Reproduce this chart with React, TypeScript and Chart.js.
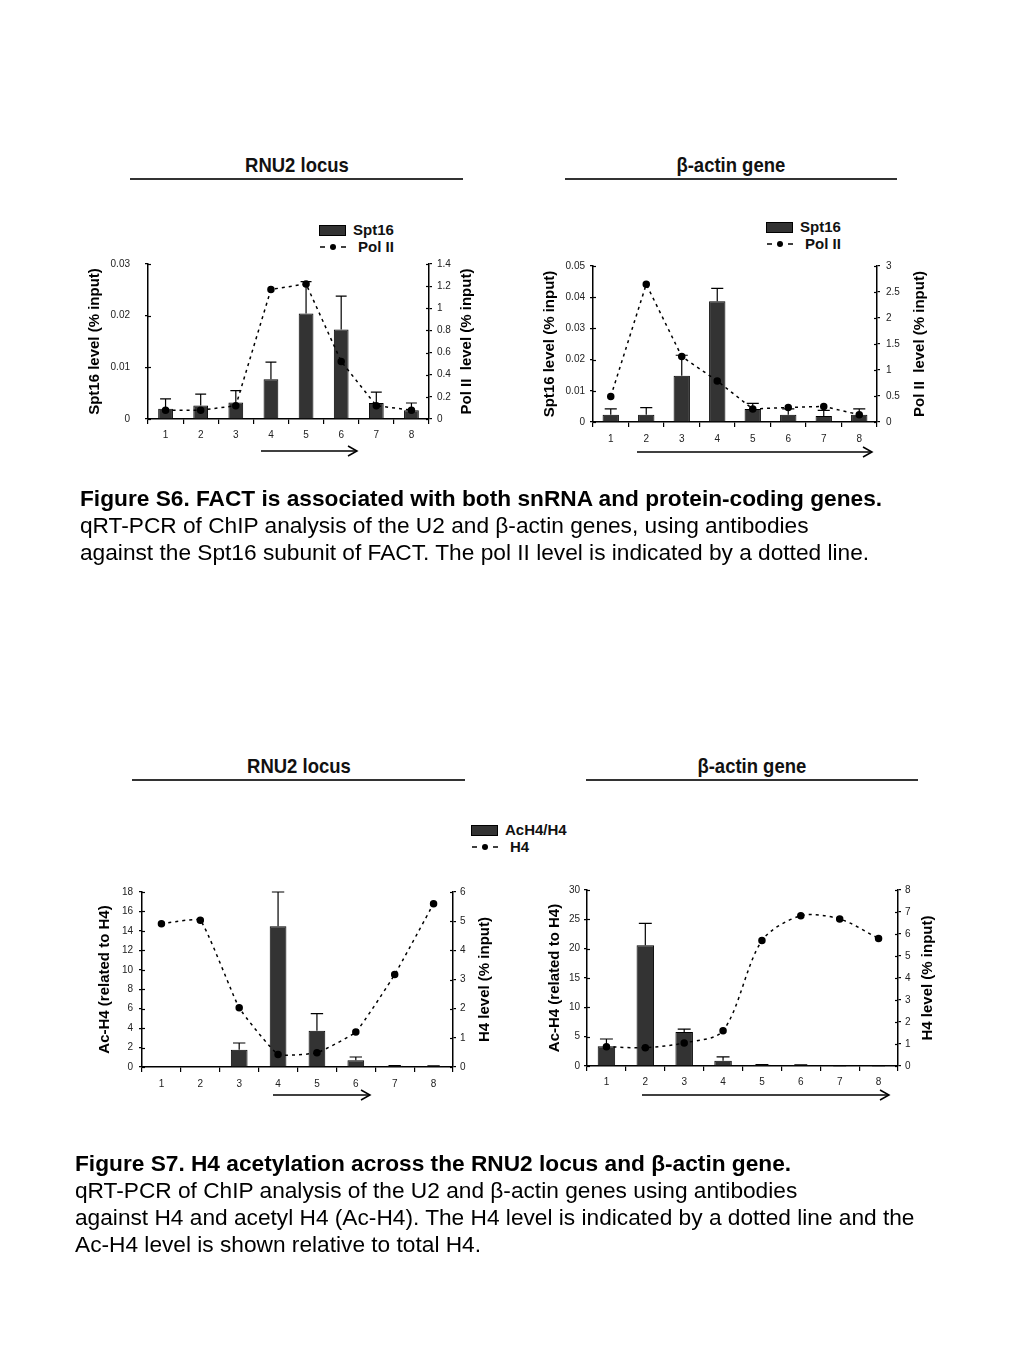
import React, { useEffect, useRef } from "react";
import { Chart, registerables } from "chart.js";

Chart.register(...registerables);

const FONT = '"Liberation Sans", Arial, Helvetica, sans-serif';

// ---------- data ----------
const categories = ["1", "2", "3", "4", "5", "6", "7", "8"];

// Figure S6 – RNU2 locus
const s6RnuSpt16 = [0.002, 0.0026, 0.0032, 0.0077, 0.0204, 0.0173, 0.0031, 0.0017];
const s6RnuSpt16Err = [0.0039, 0.0048, 0.0055, 0.011, 0.0266, 0.0238, 0.0052, 0.0031];
const s6RnuPolII = [0.08, 0.08, 0.12, 1.17, 1.22, 0.52, 0.12, 0.08];

// Figure S6 – beta-actin gene
const s6ActSpt16 = [0.0023, 0.0023, 0.0148, 0.0387, 0.0042, 0.0023, 0.0019, 0.0023];
const s6ActSpt16Err = [0.0042, 0.0046, 0.0214, 0.0428, 0.006, 0.0042, 0.0037, 0.0042];
const s6ActPolII = [0.49, 2.65, 1.26, 0.79, 0.25, 0.28, 0.3, 0.14];

// Figure S7 – RNU2 locus
const s7RnuAcH4 = [0, 0, 1.78, 14.47, 3.74, 0.69, 0.12, 0.1];
const s7RnuAcH4Err = [0, 0, 2.47, 18.0, 5.49, 1.03, 0.15, 0.12];
const s7RnuH4 = [4.91, 5.03, 2.03, 0.43, 0.49, 1.2, 3.17, 5.6];

// Figure S7 – beta-actin gene
const s7ActAcH4 = [3.36, 20.6, 5.8, 0.91, 0.2, 0.15, 0.05, 0.05];
const s7ActAcH4Err = [4.6, 24.3, 6.3, 1.54, 0.25, 0.2, 0.08, 0.08];
const s7ActH4 = [0.88, 0.83, 1.05, 1.6, 5.7, 6.83, 6.68, 5.8];

// axis ranges [max, step]
const s6RnuLeftAxis = [0.03, 0.01];
const s6RnuRightAxis = [1.4, 0.2];
const s6ActLeftAxis = [0.05, 0.01];
const s6ActRightAxis = [3, 0.5];
const s7RnuLeftAxis = [18, 2];
const s7RnuRightAxis = [6, 1];
const s7ActLeftAxis = [30, 5];
const s7ActRightAxis = [8, 1];

const fmt = (v: any) => String(Math.round(Number(v) * 10000) / 10000);

// ---------- plugin: error bars, inner ticks, right-hand title ----------
const errorBarPlugin = {
  id: "errorBars",
  afterDatasetDraw(chart: any, args: any) {
    const ds = chart.data.datasets[args.index];
    if (!ds.errorHigh) return;
    const yScale = chart.scales[ds.yAxisID];
    const ctx = chart.ctx;
    ctx.save();
    ctx.strokeStyle = "#000";
    ctx.lineWidth = 1.2;
    args.meta.data.forEach((bar: any, i: number) => {
      const hi = ds.errorHigh[i];
      if (hi == null || hi <= ds.data[i]) return;
      const p = bar.getProps(["x", "y", "width"], true);
      const yTop = yScale.getPixelForValue(hi);
      const cap = p.width * 0.37;
      ctx.beginPath();
      ctx.moveTo(p.x, p.y);
      ctx.lineTo(p.x, yTop);
      ctx.moveTo(p.x - cap, yTop);
      ctx.lineTo(p.x + cap, yTop);
      ctx.stroke();
    });
    ctx.restore();
  },
};

const decorPlugin = {
  id: "decor",
  afterDraw(chart: any, _args: any, opts: any) {
    const ctx = chart.ctx;
    const area = chart.chartArea;
    ctx.save();
    ctx.strokeStyle = "#000";
    ctx.lineWidth = 1.2;
    // inner halves of y tick marks (ticks cross the axis)
    ["y", "y1"].forEach((id) => {
      const s = chart.scales[id];
      const dir = s.position === "left" ? 1 : -1;
      const x0 = s.position === "left" ? area.left : area.right;
      s.ticks.forEach((_t: any, i: number) => {
        const y = Math.round(s.getPixelForTick(i)) + 0.5;
        ctx.beginPath();
        ctx.moveTo(x0, y);
        ctx.lineTo(x0 + dir * 3, y);
        ctx.stroke();
      });
    });
    // right-hand axis title, reading bottom to top
    ctx.fillStyle = "#000";
    ctx.font = `bold ${opts.size}px ${FONT}`;
    ctx.textAlign = "center";
    ctx.textBaseline = "middle";
    ctx.translate(chart.width - opts.offset, (area.top + area.bottom) / 2);
    ctx.rotate(-Math.PI / 2);
    ctx.fillText(opts.text, 0, 0);
    ctx.restore();
  },
};

type Spec = {
  left: number; top: number; width: number; height: number;
  bars: number[]; errs: number[]; line: number[];
  barLabel: string; lineLabel: string;
  leftAxis: number[]; rightAxis: number[];
  leftTitle: string; rightTitle: string;
  leftW: number; rightW: number; xH: number; padTop: number;
  leftTitlePad: number; rightTitleOffset: number;
  leftTickPad: number; rightTickPad: number; xTickPad: number;
  barPct: number; tension: number; tickSize: number;
};

function ChartPanel({ spec }: { spec: Spec }) {
  const ref = useRef<HTMLCanvasElement>(null);
  useEffect(() => {
    const tickFont = { family: FONT, size: spec.tickSize };
    const titleFont = { family: FONT, size: 15, weight: "bold" as const };
    const chart = new Chart(ref.current as HTMLCanvasElement, {
      type: "bar",
      data: {
        labels: categories,
        datasets: [
          {
            type: "line",
            label: spec.lineLabel,
            data: spec.line,
            yAxisID: "y1",
            order: 0,
            borderColor: "#000",
            borderWidth: 1.5,
            borderDash: [3, 4],
            pointRadius: 3,
            pointBackgroundColor: "#000",
            pointBorderColor: "#000",
            tension: spec.tension,
            fill: false,
          } as any,
          {
            type: "bar",
            label: spec.barLabel,
            data: spec.bars,
            errorHigh: spec.errs,
            yAxisID: "y",
            order: 1,
            backgroundColor: "#333333",
            borderColor: "#000",
            borderWidth: 1,
            barPercentage: spec.barPct,
            categoryPercentage: 1,
          } as any,
        ],
      },
      options: {
        responsive: false,
        animation: false,
        layout: { autoPadding: false, padding: { top: spec.padTop, left: 0, right: 0, bottom: 0 } },
        plugins: {
          legend: { display: false },
          tooltip: { enabled: false },
          decor: { text: spec.rightTitle, offset: spec.rightTitleOffset, size: 15 },
        },
        scales: {
          x: {
            offset: true,
            grid: { offset: true, drawOnChartArea: false, tickLength: 5, color: "#000", lineWidth: 1.2 },
            border: { color: "#000", width: 1.5 },
            ticks: { font: tickFont, color: "#222", padding: spec.xTickPad, maxRotation: 0 },
            afterFit: (s: any) => { s.height = spec.xH; },
          },
          y: {
            position: "left",
            min: 0,
            max: spec.leftAxis[0],
            ticks: { stepSize: spec.leftAxis[1], font: tickFont, color: "#222", padding: spec.leftTickPad, callback: fmt },
            grid: { drawOnChartArea: false, tickLength: 3, color: "#000", lineWidth: 1.2 },
            border: { color: "#000", width: 1.5 },
            title: { display: true, text: spec.leftTitle, font: titleFont, color: "#000", padding: { top: spec.leftTitlePad, bottom: 0 } },
            afterFit: (s: any) => { s.width = spec.leftW; },
          },
          y1: {
            position: "right",
            min: 0,
            max: spec.rightAxis[0],
            ticks: { stepSize: spec.rightAxis[1], font: tickFont, color: "#222", padding: spec.rightTickPad, callback: fmt },
            grid: { drawOnChartArea: false, tickLength: 3, color: "#000", lineWidth: 1.2 },
            border: { color: "#000", width: 1.5 },
            title: { display: false },
            afterFit: (s: any) => { s.width = spec.rightW; },
          },
        },
      } as any,
      plugins: [errorBarPlugin, decorPlugin],
    });
    return () => chart.destroy();
  }, []);
  return (
    <canvas
      ref={ref}
      width={spec.width}
      height={spec.height}
      style={{ position: "absolute", left: spec.left, top: spec.top, width: spec.width, height: spec.height }}
    />
  );
}

const charts: Spec[] = [
  {
    left: 80, top: 243, width: 420, height: 207,
    bars: s6RnuSpt16, errs: s6RnuSpt16Err, line: s6RnuPolII,
    barLabel: "Spt16", lineLabel: "Pol II",
    leftAxis: s6RnuLeftAxis, rightAxis: s6RnuRightAxis,
    leftTitle: "Spt16 level (% input)", rightTitle: "Pol II  level (% input)",
    leftW: 68, rightW: 71, xH: 31, padTop: 20,
    leftTitlePad: 6, rightTitleOffset: 33,
    leftTickPad: 15, rightTickPad: 5, xTickPad: 5,
    barPct: 0.42, tension: 0, tickSize: 10,
  },
  {
    left: 530, top: 250, width: 420, height: 200,
    bars: s6ActSpt16, errs: s6ActSpt16Err, line: s6ActPolII,
    barLabel: "Spt16", lineLabel: "Pol II",
    leftAxis: s6ActLeftAxis, rightAxis: s6ActRightAxis,
    leftTitle: "Spt16 level (% input)", rightTitle: "Pol II  level (% input)",
    leftW: 63, rightW: 73, xH: 28, padTop: 16,
    leftTitlePad: 11, rightTitleOffset: 30,
    leftTickPad: 5, rightTickPad: 6, xTickPad: 6,
    barPct: 0.46, tension: 0, tickSize: 10,
  },
  {
    left: 80, top: 870, width: 420, height: 240,
    bars: s7RnuAcH4, errs: s7RnuAcH4Err, line: s7RnuH4,
    barLabel: "AcH4/H4", lineLabel: "H4",
    leftAxis: s7RnuLeftAxis, rightAxis: s7RnuRightAxis,
    leftTitle: "Ac-H4 (related to H4)", rightTitle: "H4 level (% input)",
    leftW: 62, rightW: 47, xH: 43, padTop: 22,
    leftTitlePad: 16, rightTitleOffset: 15,
    leftTickPad: 6, rightTickPad: 4, xTickPad: 6,
    barPct: 0.43, tension: 0.12, tickSize: 10,
  },
  {
    left: 530, top: 870, width: 420, height: 240,
    bars: s7ActAcH4, errs: s7ActAcH4Err, line: s7ActH4,
    barLabel: "AcH4/H4", lineLabel: "H4",
    leftAxis: s7ActLeftAxis, rightAxis: s7ActRightAxis,
    leftTitle: "Ac-H4 (related to H4)", rightTitle: "H4 level (% input)",
    leftW: 57, rightW: 52, xH: 44, padTop: 20,
    leftTitlePad: 16, rightTitleOffset: 22,
    leftTickPad: 4, rightTickPad: 4, xTickPad: 5,
    barPct: 0.45, tension: 0.3, tickSize: 10,
  },
];

function SectionTitle({ x1, x2, y, text }: { x1: number; x2: number; y: number; text: string }) {
  return (
    <>
      <div style={{ position: "absolute", left: x1, width: x2 - x1, top: y - 12, height: 24, lineHeight: "24px", textAlign: "center", fontWeight: "bold", fontSize: 21, color: "#111" }}>
        <span style={{ display: "inline-block", transform: "scaleX(0.88)" }}>{text}</span>
      </div>
      <div style={{ position: "absolute", left: x1, width: x2 - x1, top: y + 13, height: 2, background: "#333" }} />
    </>
  );
}

function Legend({ x, y, bar, line }: { x: number; y: number; bar: string; line: string }) {
  const txt = { position: "absolute" as const, lineHeight: "18px", fontSize: 15, fontWeight: "bold" as const, color: "#111" };
  return (
    <>
      <div style={{ position: "absolute", left: x, top: y - 5, width: 27, height: 11, background: "#333", border: "1px solid #000", boxSizing: "border-box" }} />
      <div style={{ ...txt, left: x + 34, top: y - 9 }}>{bar}</div>
      <svg style={{ position: "absolute", left: x, top: y + 13 }} width={28} height={8}>
        <line x1={1} y1={4} x2={6} y2={4} stroke="#000" strokeWidth={1.5} />
        <circle cx={14} cy={4} r={3} fill="#000" />
        <line x1={22} y1={4} x2={27} y2={4} stroke="#000" strokeWidth={1.5} />
      </svg>
      <div style={{ ...txt, left: x + 39, top: y + 8 }}>{line}</div>
    </>
  );
}

const arrows = [
  [261, 357, 451],
  [637, 872, 452],
  [273, 370, 1095],
  [642, 889, 1095],
];

export default function App() {
  const cap = { position: "absolute" as const, fontSize: 22.7, lineHeight: "27px", color: "#000", whiteSpace: "nowrap" as const };
  return (
    <div style={{ position: "absolute", left: 0, top: 0, width: 1024, height: 1365, background: "#fff", fontFamily: FONT, color: "#111" }}>
      <SectionTitle x1={130} x2={463} y={165} text="RNU2 locus" />
      <SectionTitle x1={565} x2={897} y={165} text="β-actin gene" />
      <SectionTitle x1={132} x2={465} y={766} text="RNU2 locus" />
      <SectionTitle x1={586} x2={918} y={766} text="β-actin gene" />

      <Legend x={319} y={230} bar="Spt16" line="Pol II" />
      <Legend x={766} y={227} bar="Spt16" line="Pol II" />
      <Legend x={471} y={830} bar="AcH4/H4" line="H4" />

      {charts.map((c, i) => (
        <ChartPanel key={i} spec={c} />
      ))}

      <svg style={{ position: "absolute", left: 0, top: 0 }} width={1024} height={1365} pointerEvents="none">
        {arrows.map(([a, b, y], i) => (
          <g key={i} stroke="#000" strokeWidth={1.5} fill="none">
            <line x1={a} y1={y} x2={b} y2={y} />
            <polyline points={`${b - 9},${y - 5} ${b},${y} ${b - 9},${y + 5}`} />
          </g>
        ))}
      </svg>

      <div style={{ ...cap, left: 80, top: 485 }}>
        <div style={{ fontWeight: "bold" }}>Figure S6. FACT is associated with both snRNA and protein-coding genes.</div>
        <div>qRT-PCR of ChIP analysis of the U2 and β-actin genes, using antibodies</div>
        <div>against the Spt16 subunit of FACT. The pol II level is indicated by a dotted line.</div>
      </div>

      <div style={{ ...cap, left: 75, top: 1150 }}>
        <div style={{ fontWeight: "bold" }}>Figure S7. H4 acetylation across the RNU2 locus and β-actin gene.</div>
        <div>qRT-PCR of ChIP analysis of the U2 and β-actin genes using antibodies</div>
        <div>against H4 and acetyl H4 (Ac-H4). The H4 level is indicated by a dotted line and the</div>
        <div>Ac-H4 level is shown relative to total H4.</div>
      </div>
    </div>
  );
}
